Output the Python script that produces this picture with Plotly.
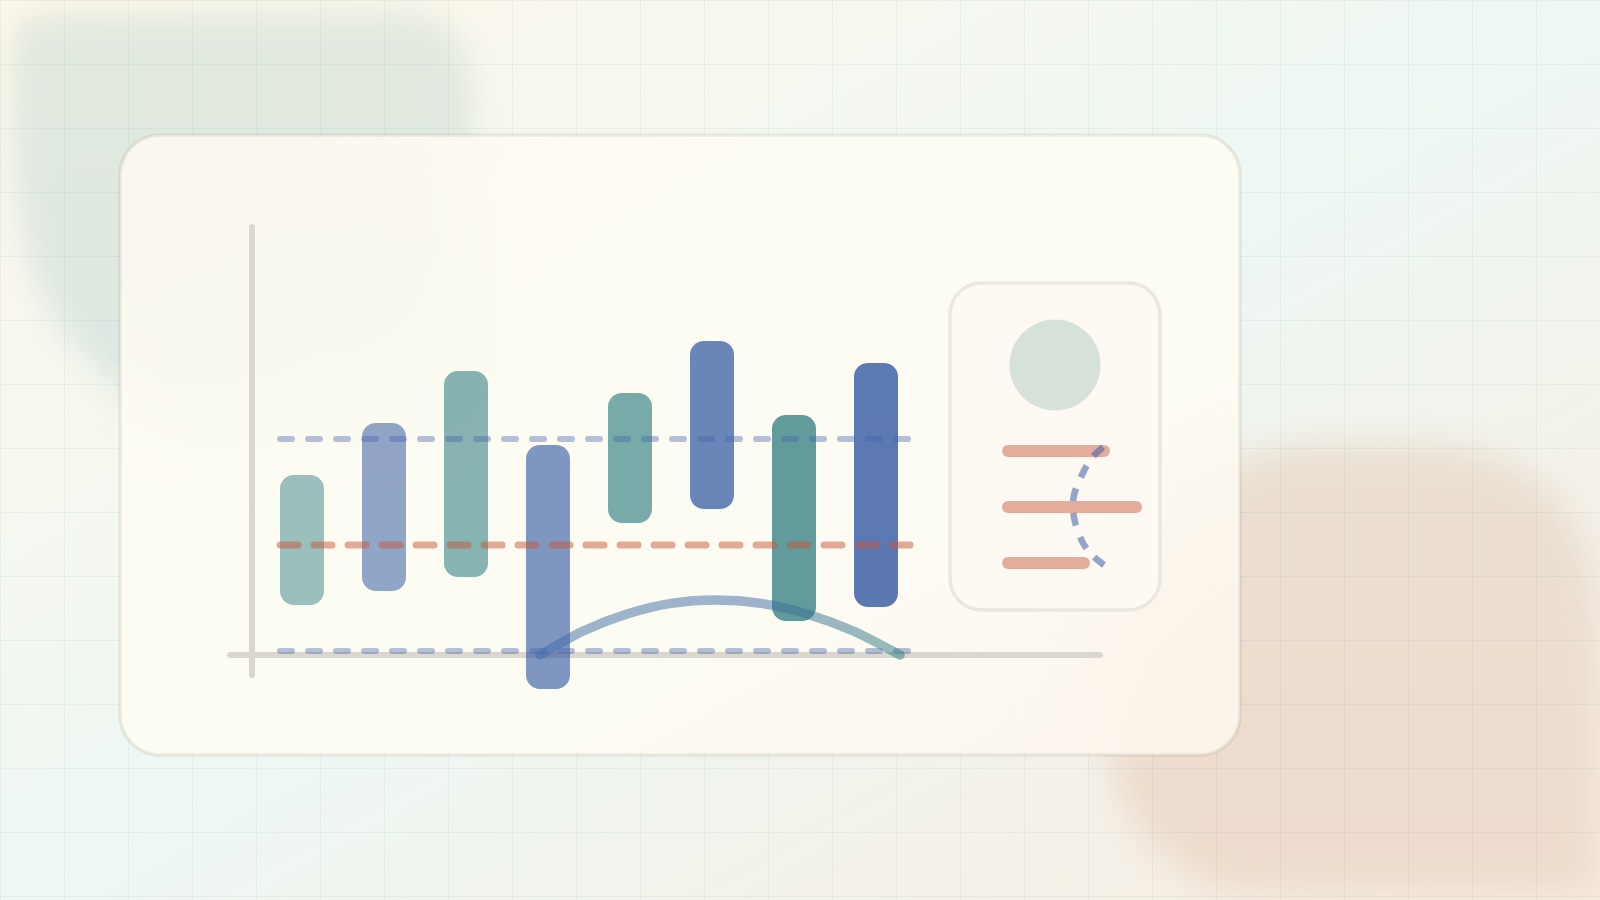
import base64
import plotly.graph_objects as go

# ---- data ----
bar_index = [0, 1, 2, 3, 4, 5, 6, 7]
bar_low = [50, 64, 78, -34, 132, 146, 34, 48]
bar_high = [180, 232, 284, 210, 262, 314, 240, 292]
bar_colors = [
    "rgba(45,123,127,0.47)", "rgba(50,87,161,0.53)", "rgba(45,123,127,0.565)", "rgba(50,87,161,0.62)",
    "rgba(45,123,127,0.64)", "rgba(50,87,161,0.72)", "rgba(45,123,127,0.75)", "rgba(50,87,161,0.80)",
]
ref_x = [-0.268, 7.415]
ref_upper = [216, 216]
ref_lower = [4, 4]
ref_mid_x = [-0.268, 7.44]
ref_mid = [110, 110]
curve_x = [2.902, 3.429, 3.963, 4.502, 5.049, 5.600, 6.159, 6.722, 7.293]
curve_y = [0, 24, 41, 51.6, 55, 51.6, 41, 24, 0]

# panel and frame items, read in page units
axis_x_x = [230, 1100]
axis_x_y = [655, 655]
axis_y_x = [252, 252]
axis_y_y = [227, 675]
panel_rows = [451, 507, 563]
panel_row_start = [1002, 1002, 1002]
panel_row_len = [108, 140, 88]
panel_curve_x = [1103, 1091, 1081, 1074, 1073, 1075, 1083, 1093, 1104]
panel_curve_y = [447, 459, 477, 495, 507, 522, 543, 556, 565]

# ---- decorative backdrop ----
grid = "".join(f'<rect x="{x}" y="0" width="1" height="900"/>' for x in range(0, 1600, 64))
grid += "".join(f'<rect x="0" y="{y}" width="1600" height="1"/>' for y in range(0, 900, 64))
blobs = (
    '<path d="M40 12 H400 Q470 12 472 90 V420 H170 Q60 360 28 260 Q10 190 10 50 Q10 12 40 12 Z" fill="url(#sage)"/>'
    '<path d="M1300 445 H1420 Q1590 450 1598 620 V892 H1230 Q1110 850 1105 720 V600 Q1140 470 1300 445 Z" fill="url(#peach)"/>'
)
card = "M160 135 H1200 A40 40 0 0 1 1240 175 V715 A40 40 0 0 1 1200 755 H160 A40 40 0 0 1 120 715 V175 A40 40 0 0 1 160 135 Z"
svg = f'''<svg xmlns="http://www.w3.org/2000/svg" width="1600" height="900" viewBox="0 0 1600 900">
<defs>
<linearGradient id="bg" x1="0" y1="0" x2="1" y2="1"><stop offset="0" stop-color="#fff8ea"/><stop offset="0.5" stop-color="#eef7f3"/><stop offset="1" stop-color="#f8ece0"/></linearGradient>
<linearGradient id="peach" x1="0" y1="0" x2="0" y2="1"><stop offset="0" stop-color="#eadfd2"/><stop offset="1" stop-color="#eedbcc"/></linearGradient>
<linearGradient id="sage" x1="0" y1="0" x2="0" y2="1"><stop offset="0" stop-color="#e3e9df"/><stop offset="1" stop-color="#dbe7e2"/></linearGradient>
<linearGradient id="cardfill" x1="0" y1="0" x2="1" y2="1"><stop offset="0" stop-color="#fff9f3"/><stop offset="0.3" stop-color="#fffdf3"/><stop offset="0.65" stop-color="#fffdf4"/><stop offset="1" stop-color="#fef6ee"/></linearGradient>
<filter id="b1" x="-30%" y="-30%" width="160%" height="160%"><feGaussianBlur stdDeviation="17"/></filter>
<filter id="b2" x="-30%" y="-30%" width="160%" height="160%"><feGaussianBlur stdDeviation="40"/></filter>
<clipPath id="c"><path d="{card}"/></clipPath>
</defs>
<rect width="1600" height="900" fill="url(#bg)"/>
<g filter="url(#b1)">{blobs}</g>
<g fill="#5a7c70" fill-opacity="0.08">{grid}</g>
<g clip-path="url(#c)"><rect width="1600" height="900" fill="url(#bg)"/><g filter="url(#b2)">{blobs}</g></g>
<path d="{card}" fill="url(#cardfill)" fill-opacity="0.84" stroke="#8c8c78" stroke-opacity="0.16" stroke-width="3.5"/>
</svg>'''
bg_uri = "data:image/svg+xml;base64," + base64.b64encode(svg.encode()).decode()

fig = go.Figure()

# lower page-unit layer
fig.add_trace(go.Scatter(x=axis_x_x, y=axis_x_y, mode="lines", line=dict(color="#d9d7cf", width=6), xaxis="x", yaxis="y"))
fig.add_trace(go.Scatter(x=axis_y_x, y=axis_y_y, mode="lines", line=dict(color="#d9d7cf", width=6), xaxis="x", yaxis="y"))
fig.add_trace(go.Bar(y=panel_rows, x=panel_row_len, base=panel_row_start, orientation="h", width=12,
                     marker=dict(color="#e4ad9b", cornerradius=6, line=dict(width=0)), xaxis="x", yaxis="y"))
fig.add_trace(go.Scatter(x=panel_curve_x, y=panel_curve_y, mode="lines",
                         line=dict(color="rgba(70,100,170,0.58)", width=6.5, dash="13px,12px", shape="spline"),
                         xaxis="x", yaxis="y"))

# chart layer
fig.add_trace(go.Bar(x=bar_index, y=[h - l for h, l in zip(bar_high, bar_low)], base=bar_low, width=44 / 82,
                     marker=dict(color=bar_colors, cornerradius=14, line=dict(width=0)), xaxis="x2", yaxis="y2"))
fig.add_trace(go.Scatter(x=ref_x, y=ref_upper, mode="lines", line=dict(color="rgba(68,100,170,0.4)", width=6, dash="12px,16px"), xaxis="x2", yaxis="y2"))
fig.add_trace(go.Scatter(x=ref_x, y=ref_lower, mode="lines", line=dict(color="rgba(68,100,170,0.4)", width=6, dash="12px,16px"), xaxis="x2", yaxis="y2"))
fig.add_trace(go.Scatter(x=ref_mid_x, y=ref_mid, mode="lines", line=dict(color="rgba(202,86,56,0.5)", width=7, dash="18px,16px"), xaxis="x2", yaxis="y2"))
fig.add_trace(go.Scatter(x=curve_x, y=curve_y, mode="lines", uid="trendcurve",
                         line=dict(color="rgba(64,106,164,0.5)", width=9.5, shape="spline", smoothing=0.8), xaxis="x2", yaxis="y2"))

fig.update_layout(
    width=1600, height=900, margin=dict(l=0, r=0, t=0, b=0), showlegend=False,
    paper_bgcolor="#f7f8ee", plot_bgcolor="rgba(0,0,0,0)", barmode="overlay",
    xaxis=dict(range=[0, 1600], visible=False, fixedrange=True, domain=[0, 1]),
    yaxis=dict(range=[900, 0], visible=False, fixedrange=True, domain=[0, 1]),
    xaxis2=dict(range=[-302 / 82, 1298 / 82], visible=False, fixedrange=True, overlaying="x"),
    yaxis2=dict(range=[-245, 655], visible=False, fixedrange=True, overlaying="y"),
    images=[dict(source=bg_uri, xref="paper", yref="paper", x=0, y=1, sizex=1, sizey=1,
                 xanchor="left", yanchor="top", sizing="stretch", layer="below")],
    shapes=[
        dict(type="path", xref="x", yref="y", layer="below",
             path="M982 283 H1128 C1146 283 1160 297 1160 315 V578 C1160 596 1146 610 1128 610 H982 C964 610 950 596 950 578 V315 C950 297 964 283 982 283 Z",
             fillcolor="#fef9f2", line=dict(color="#e9e7df", width=3.5)),
        dict(type="circle", xref="x", yref="y", layer="below", x0=1009.5, x1=1100.5, y0=319.5, y1=410.5,
             fillcolor="#d6e1da", line=dict(width=0)),
    ],
)

post = """
document.body.style.margin='0';
document.querySelectorAll('.scatterlayer .js-line').forEach(function(p){
  if(!(p.style.strokeDasharray||'').startsWith('13')) p.style.strokeLinecap='round';
});
var svgEl=document.querySelector('.main-svg');var defs=svgEl.querySelector('defs');
var ns='http://www.w3.org/2000/svg';
var g=document.createElementNS(ns,'linearGradient');g.setAttribute('id','curvegrad');
g.setAttribute('gradientUnits','userSpaceOnUse');g.setAttribute('x1','540');g.setAttribute('x2','900');
g.setAttribute('y1','0');g.setAttribute('y2','0');
[['0','#406aa4'],['0.6','#406aa4'],['1','#2e7c7e']].forEach(function(s){
  var e=document.createElementNS(ns,'stop');e.setAttribute('offset',s[0]);e.setAttribute('stop-color',s[1]);g.appendChild(e);});
defs.appendChild(g);
var t=document.querySelector('.tracetrendcurve .js-line');if(t)t.style.stroke='url(#curvegrad)';
"""
fig.write_html("out.html", post_script=post, config={"displayModeBar": False})
